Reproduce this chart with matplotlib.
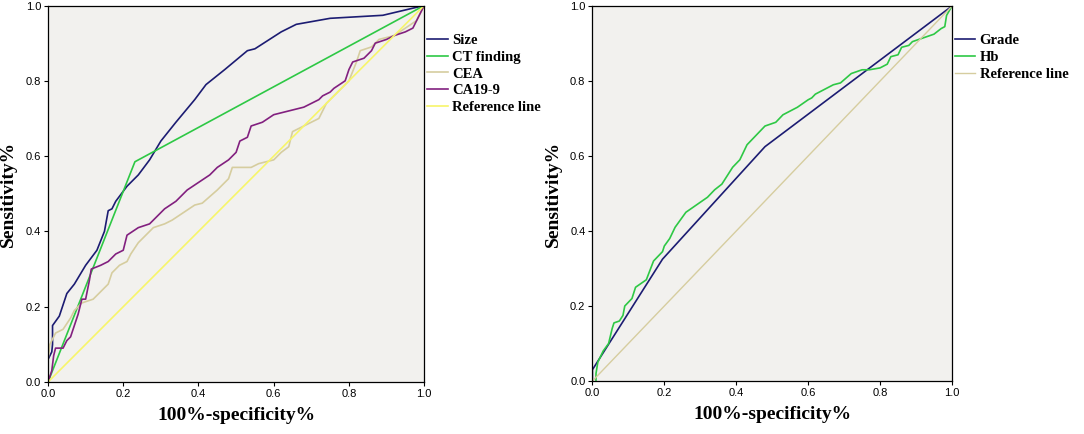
"""ROC curves for predictors: size, CT, markers (left) and grade, Hb (right)."""
import numpy as np
import matplotlib
matplotlib.use('Agg')
import matplotlib.pyplot as plt

# left panel
size_x = [0, 0, 0.01, 0.012, 0.012, 0.03, 0.05, 0.07, 0.10, 0.13, 0.15, 0.16, 0.17, 0.18,
          0.21, 0.24, 0.27, 0.30, 0.34, 0.39, 0.42, 0.47, 0.53, 0.55, 0.62, 0.66, 0.75, 0.89, 1.0]
size_y = [0, 0.06, 0.08, 0.10, 0.15, 0.175, 0.235, 0.26, 0.31, 0.35, 0.40, 0.455, 0.46, 0.48,
          0.52, 0.55, 0.59, 0.64, 0.69, 0.75, 0.79, 0.83, 0.88, 0.885, 0.93, 0.95, 0.966, 0.974, 1.0]

ct_x = [0, 0.231, 1.0]
ct_y = [0, 0.585, 1.0]

cea_x = [0, 0.005, 0.01, 0.02, 0.04, 0.06, 0.07, 0.09, 0.12, 0.14, 0.16, 0.17, 0.19, 0.21, 0.22,
         0.24, 0.26, 0.28, 0.31, 0.33, 0.36, 0.39, 0.41, 0.45, 0.48, 0.49, 0.54, 0.56, 0.60, 0.62,
         0.64, 0.65, 0.68, 0.72, 0.74, 0.77, 0.80, 0.82, 0.83, 0.86, 0.88, 0.92, 0.95, 0.98, 1.0]
cea_y = [0.06, 0.10, 0.11, 0.13, 0.14, 0.17, 0.19, 0.21, 0.22, 0.24, 0.26, 0.29, 0.31, 0.32, 0.34,
         0.37, 0.39, 0.41, 0.42, 0.43, 0.45, 0.47, 0.475, 0.51, 0.54, 0.57, 0.57, 0.58, 0.59, 0.61,
         0.625, 0.665, 0.68, 0.70, 0.74, 0.77, 0.80, 0.85, 0.88, 0.89, 0.91, 0.92, 0.94, 0.96, 1.0]

ca199_x = [0, 0.01, 0.015, 0.02, 0.04, 0.05, 0.06, 0.07, 0.08, 0.09, 0.10, 0.11, 0.115, 0.14,
           0.16, 0.18, 0.20, 0.21, 0.24, 0.27, 0.29, 0.31, 0.34, 0.37, 0.40, 0.43, 0.45, 0.48,
           0.50, 0.51, 0.53, 0.54, 0.57, 0.60, 0.64, 0.68, 0.72, 0.73, 0.75, 0.76, 0.79, 0.80,
           0.81, 0.84, 0.86, 0.87, 0.90, 0.92, 0.95, 0.97, 1.0]
ca199_y = [0, 0.03, 0.07, 0.09, 0.09, 0.11, 0.12, 0.15, 0.18, 0.22, 0.22, 0.27, 0.30, 0.31,
           0.32, 0.34, 0.35, 0.39, 0.41, 0.42, 0.44, 0.46, 0.48, 0.51, 0.53, 0.55, 0.57, 0.59,
           0.61, 0.64, 0.65, 0.68, 0.69, 0.71, 0.72, 0.73, 0.75, 0.76, 0.77, 0.78, 0.80, 0.83,
           0.85, 0.86, 0.88, 0.90, 0.91, 0.92, 0.93, 0.94, 1.0]

# right panel
grade_x = [0, 0, 0.195, 0.48, 1.0]
grade_y = [0, 0.03, 0.325, 0.625, 1.0]

hb_x = [0.01, 0.01, 0.015, 0.03, 0.045, 0.055, 0.06, 0.075, 0.085, 0.09, 0.11, 0.12, 0.15,
        0.17, 0.195, 0.20, 0.215, 0.23, 0.26, 0.29, 0.32, 0.34, 0.36, 0.39, 0.41, 0.43, 0.45,
        0.48, 0.51, 0.52, 0.53, 0.57, 0.60, 0.61, 0.62, 0.67, 0.69, 0.72, 0.75, 0.77, 0.80,
        0.82, 0.83, 0.85, 0.86, 0.88, 0.89, 0.92, 0.95, 0.97, 0.98, 0.985, 1.0]
hb_y = [0, 0.02, 0.05, 0.08, 0.10, 0.14, 0.155, 0.16, 0.175, 0.20, 0.22, 0.25, 0.27,
        0.32, 0.345, 0.36, 0.38, 0.41, 0.45, 0.47, 0.49, 0.51, 0.525, 0.57, 0.59, 0.63, 0.65,
        0.68, 0.69, 0.70, 0.71, 0.73, 0.75, 0.755, 0.765, 0.79, 0.795, 0.82, 0.83, 0.83, 0.835,
        0.845, 0.865, 0.87, 0.89, 0.895, 0.905, 0.915, 0.925, 0.94, 0.945, 0.975, 1.0]

ref_xy = [0, 1]
ticks = [0.0, 0.2, 0.4, 0.6, 0.8, 1.0]

navy = '#1c1c72'
green = '#2ec845'
tan = '#d6cd9f'
purple = '#82207f'
yellow = '#f7f56a'
bg = '#f2f1ee'

fig = plt.figure(figsize=(10.84, 4.34), dpi=100)
ax1 = fig.add_axes([0.0443, 0.1198, 0.347, 0.8675])
ax2 = fig.add_axes([0.5465, 0.1221, 0.3317, 0.864])

serif = {'family': 'Liberation Serif', 'weight': 'bold'}


def style_axes(ax):
    ax.set_facecolor(bg)
    ax.set_xlim(0, 1)
    ax.set_ylim(0, 1)
    ax.set_xticks(ticks)
    ax.set_yticks(ticks)
    ax.set_xticklabels(['%.1f' % t for t in ticks], fontsize=8, family='Liberation Sans')
    ax.set_yticklabels(['%.1f' % t for t in ticks], fontsize=8, family='Liberation Sans')
    ax.tick_params(length=3, width=0.8, pad=2)
    for s in ax.spines.values():
        s.set_linewidth(0.9)
    ax.set_xlabel('100%-specificity%', fontdict=dict(serif, size=14), labelpad=6)
    ax.set_ylabel('Sensitivity%', fontdict=dict(serif, size=14), labelpad=6)


ax1.plot(size_x, size_y, color=navy, lw=1.2, label='Size')
ax1.plot(ct_x, ct_y, color=green, lw=1.2, label='CT finding')
ax1.plot(cea_x, cea_y, color=tan, lw=1.2, label='CEA')
ax1.plot(ca199_x, ca199_y, color=purple, lw=1.2, label='CA19-9')
ax1.plot(ref_xy, ref_xy, color=yellow, lw=1.2, label='Reference line')
style_axes(ax1)

ax2.plot(grade_x, grade_y, color=navy, lw=1.2, label='Grade')
ax2.plot(hb_x, hb_y, color=green, lw=1.2, label='Hb')
ax2.plot(ref_xy, ref_xy, color=tan, lw=1.0, label='Reference line')
style_axes(ax2)

for ax in (ax1, ax2):
    ax.legend(loc='upper left', bbox_to_anchor=(1.0, 0.933), frameon=False,
              prop={'family': 'Liberation Serif', 'weight': 'bold', 'size': 10.5},
              handlelength=1.4, handletextpad=0.3, labelspacing=0.25,
              borderpad=0.2, borderaxespad=0.0)

fig.savefig('out.png', dpi=100)
